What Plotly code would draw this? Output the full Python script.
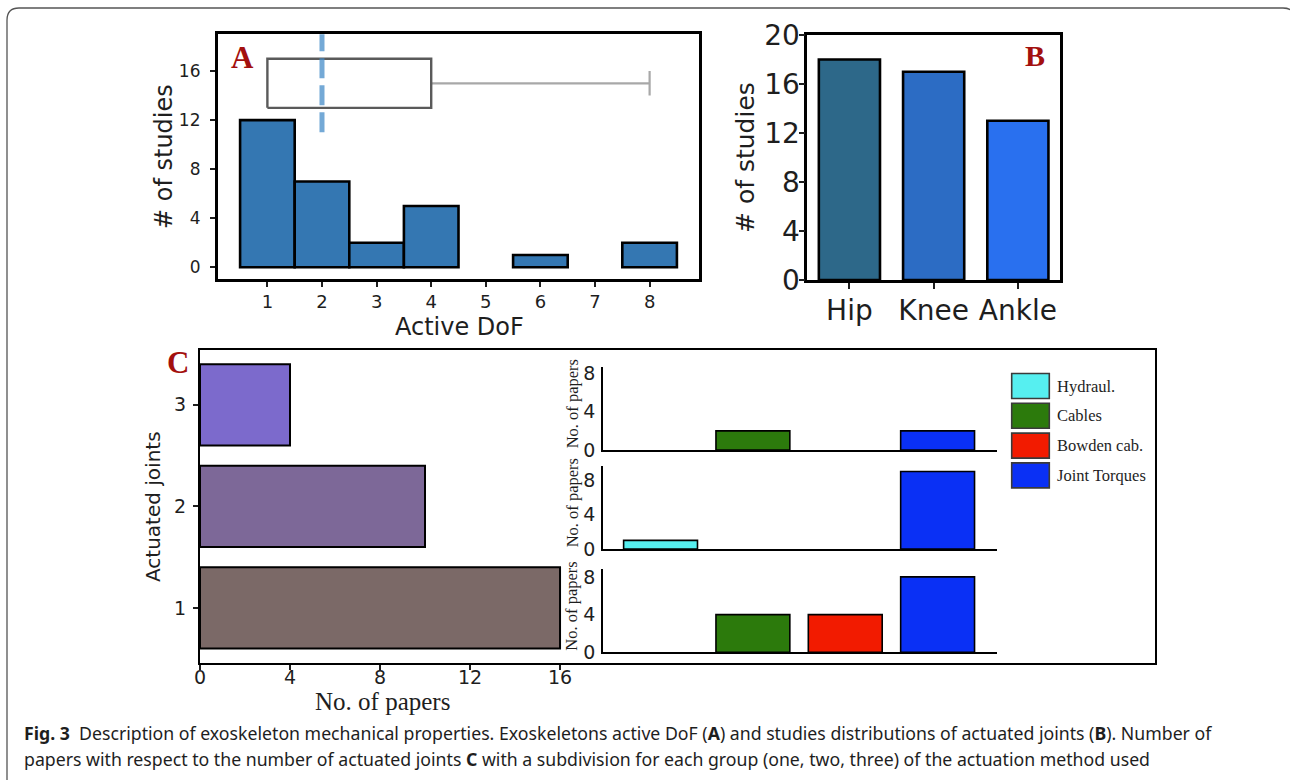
import plotly.graph_objects as go

W, H = 1290, 780

# ---------------- data ----------------
# Panel A: histogram of active DoF + box summary
dof_values = [1, 2, 3, 4, 6, 8]
dof_counts = [12, 7, 2, 5, 1, 2]
dof_ticks = [1, 2, 3, 4, 5, 6, 7, 8]
box_q1, box_median, box_q3, box_max = 1, 2, 4, 8
box_center, box_height = 15, 4

# Panel B: studies per joint
joints = ["Hip", "Knee", "Ankle"]
joint_counts = [18, 17, 13]
joint_colors = ["#2d6889", "#2c6cc4", "#2970ef"]

# Panel C: papers per number of actuated joints
n_joints = [1, 2, 3]
n_papers = [16, 10, 4]
n_colors = ["#7b6967", "#7d6898", "#7c6acc"]

# Panel C insets: actuation method per group
methods = ["Hydraul.", "Cables", "Bowden cab.", "Joint Torques"]
method_colors = ["#56eff0", "#2c7a0c", "#f21b00", "#0a30f5"]
papers_three = [0, 2, 0, 2]
papers_two = [1, 0, 0, 9]
papers_one = [0, 4, 4, 8]

caption_1 = ("<b>Fig. 3</b>  Description of exoskeleton mechanical properties. Exoskeletons active DoF "
             "(<b>A</b>) and studies distributions of actuated joints (<b>B</b>). Number of")
caption_2 = ("papers with respect to the number of actuated joints <b>C</b> with a subdivision for each "
             "group (one, two, three) of the actuation method used")


def fx(px):
    return px / W


def fy(py):
    return 1 - py / H


SANS = "DejaVu Sans"
SERIF = "Liberation Serif"
RED = "#a3100e"
TXT = "#1e1e1e"

fig = go.Figure()

# ---------------- Panel A ----------------
fig.add_trace(go.Bar(x=dof_values, y=dof_counts, width=1, xaxis="x", yaxis="y",
                     marker=dict(color="#3477b2", line=dict(color="black", width=2.6)),
                     showlegend=False, hoverinfo="skip"))
half = box_height / 2
fig.add_trace(go.Scatter(x=[box_q3, box_max], y=[box_center, box_center], mode="lines",
                         line=dict(color="#a8a8a8", width=2.2), xaxis="x", yaxis="y",
                         showlegend=False, hoverinfo="skip"))
fig.add_trace(go.Scatter(x=[box_max, box_max], y=[box_center - half / 2, box_center + half / 2], mode="lines",
                         line=dict(color="#a8a8a8", width=2.2), xaxis="x", yaxis="y",
                         showlegend=False, hoverinfo="skip"))
fig.add_trace(go.Scatter(x=[box_q1, box_q3, box_q3, box_q1, box_q1],
                         y=[box_center - half, box_center - half, box_center + half, box_center + half, box_center - half],
                         mode="lines", line=dict(color="#5a5a5a", width=2.4),
                         xaxis="x", yaxis="y", showlegend=False, hoverinfo="skip"))

# ---------------- Panel B ----------------
fig.add_trace(go.Bar(x=joints, y=joint_counts, width=0.726, xaxis="x2", yaxis="y2",
                     marker=dict(color=joint_colors, line=dict(color="black", width=2.6)),
                     showlegend=False, hoverinfo="skip"))

# ---------------- Panel C main ----------------
fig.add_trace(go.Bar(y=n_joints, x=n_papers, orientation="h", width=0.8, xaxis="x3", yaxis="y3",
                     marker=dict(color=n_colors, line=dict(color="black", width=2)),
                     showlegend=False, hoverinfo="skip"))

# ---------------- Panel C insets ----------------
xi = list(range(len(methods)))
for ax, vals in (("4", papers_three), ("5", papers_two), ("6", papers_one)):
    fig.add_trace(go.Bar(x=xi, y=vals, width=0.8, xaxis="x" + ax, yaxis="y" + ax,
                         marker=dict(color=method_colors,
                                     line=dict(color="black", width=[1.6 if v else 0 for v in vals])),
                         showlegend=False, hoverinfo="skip"))

tickA = dict(family=SANS, size=17, color=TXT)
layout = dict(
    width=W, height=H, margin=dict(l=0, r=0, t=0, b=0, autoexpand=False),
    autosize=False,
    paper_bgcolor="white", plot_bgcolor="rgba(0,0,0,0)",
    xaxis=dict(domain=[fx(217.7), fx(699.3)], range=[0.09, 8.91], tickvals=dof_ticks,
               showline=True, mirror=True, linecolor="black", linewidth=2.6,
               ticks="outside", ticklen=5, tickwidth=1.5, tickcolor=TXT,
               tickfont=dict(family=SANS, size=18, color=TXT), ticklabelstandoff=-1,
               showgrid=False, zeroline=False, anchor="y", automargin=False),
    yaxis=dict(domain=[fy(279.3), fy(34.3)], range=[-0.98, 19.0], tickvals=[0, 4, 8, 12, 16],
               showline=True, mirror=True, linecolor="black", linewidth=2.6,
               ticks="outside", ticklen=5, tickwidth=1.5, tickcolor=TXT, tickfont=tickA,
               ticklabelstandoff=6, showgrid=False, zeroline=False, anchor="x", automargin=False),
    xaxis2=dict(domain=[fx(807.3), fx(1060)], range=[-0.5, 2.5], type="category",
                showline=True, mirror=True, linecolor="black", linewidth=2.6,
                ticks="outside", ticklen=6, tickwidth=1.5, tickcolor=TXT,
                tickfont=dict(family=SANS, size=28, color=TXT), ticklabelstandoff=-2,
                showgrid=False, zeroline=False, anchor="y2", automargin=False),
    yaxis2=dict(domain=[fy(280), fy(35)], range=[0, 20], tickvals=[0, 4, 8, 12, 16, 20],
                showline=True, mirror=True, linecolor="black", linewidth=2.6,
                ticks="outside", ticklen=6, tickwidth=1.5, tickcolor=TXT,
                tickfont=dict(family=SANS, size=28, color=TXT), ticklabelstandoff=-7,
                showgrid=False, zeroline=False, anchor="x2", automargin=False),
    xaxis3=dict(domain=[fx(200), fx(1155)], range=[0, 42.44], tickvals=[0, 4, 8, 12, 16],
                showline=True, mirror=True, linecolor="black", linewidth=2.2,
                ticks="outside", ticklen=5, tickwidth=1.5, tickcolor=TXT,
                tickfont=dict(family=SANS, size=19, color=TXT), ticklabelstandoff=-9,
                showgrid=False, zeroline=False, anchor="y3", automargin=False),
    yaxis3=dict(domain=[fy(662.7), fy(350)], range=[0.46, 3.54], tickvals=n_joints,
                showline=True, mirror=True, linecolor="black", linewidth=2.2,
                ticks="outside", ticklen=5, tickwidth=1.5, tickcolor=TXT,
                tickfont=dict(family=SANS, size=19, color=TXT), ticklabelstandoff=3,
                showgrid=False, zeroline=False, anchor="x3", automargin=False),
)
inset_y = {"4": (450, 366.7, 8.7), "5": (549, 465.7, 9.68), "6": (652.3, 569, 8.84)}
for ax, (yb, yt, top) in inset_y.items():
    layout["xaxis" + ax] = dict(domain=[fx(603.3), fx(996.7)], range=[-0.62, 3.64],
                                showline=True, linecolor="black", linewidth=2.4,
                                showticklabels=False, ticks="", showgrid=False, zeroline=False,
                                anchor="y" + ax, automargin=False)
    layout["yaxis" + ax] = dict(domain=[fy(yb), fy(yt)], range=[0, top], tickvals=[0, 4, 8],
                                showline=True, linecolor="black", linewidth=2.4,
                                ticks="", ticklabelstandoff=2,
                                tickfont=dict(family=SANS, size=19, color=TXT),
                                showgrid=False, zeroline=False, anchor="x" + ax, automargin=False)
fig.update_layout(**layout)

# dashed median marker (axis-fraction span like axvline)
fig.add_shape(type="line", xref="x", yref="y domain", x0=box_median, x1=box_median, y0=0.6, y1=1.0,
              line=dict(color="rgba(70,140,200,0.75)", width=5, dash="20px,7px"))

anns = []


def ann(text, x, y, size, family=SANS, color=TXT, xa="center", ya="middle", angle=0):
    anns.append(dict(text=text, x=fx(x), y=fy(y), xref="paper", yref="paper", showarrow=False,
                     xanchor=xa, yanchor=ya, textangle=angle,
                     font=dict(size=size, family=family, color=color)))


# Panel A titles
ann("# of studies", 164, 157, 24, angle=-90)
ann("Active DoF", 459, 327, 24)
ann("<b>A</b>", 242, 58, 31, family=SERIF, color=RED)
# Panel B titles
ann("# of studies", 746, 158, 25, angle=-90)
ann("<b>B</b>", 1035, 56, 30, family=SERIF, color=RED)
# Panel C titles
ann("Actuated joints", 153, 507, 20, angle=-90)
ann("No. of papers", 382, 701, 25, family=SERIF)
ann("<b>C</b>", 178, 362, 31, family=SERIF, color=RED)
for yb, yt, top in inset_y.values():
    ann("No. of papers", 572, (yb + yt) / 2 - 4, 16.5, family=SERIF, angle=-90)

# legend of actuation methods
for i, (m, c) in enumerate(zip(methods, method_colors)):
    top = 373.5 + i * 29.8
    fig.add_shape(type="rect", xref="paper", yref="paper",
                  x0=fx(1011.7), x1=fx(1049.3), y0=fy(top + 25), y1=fy(top),
                  fillcolor=c, line=dict(color="#3a3a3a", width=1.6))
    ann(m, 1055, top + 12.5, 16.5, family=SERIF, xa="left")

# caption
ann(caption_1, 22, 733, 17.7, family="Noto Sans", xa="left")
ann(caption_2, 22, 759, 17.7, family="Noto Sans", xa="left")

fig.update_layout(annotations=anns)

# outer rounded frame
r = 12
x0p, y0p, x1p, y1p = 7, 8, 1295, 800
path = (f"M {fx(x0p)},{fy(y1p)} L {fx(x0p)},{fy(y0p + r)} Q {fx(x0p)},{fy(y0p)} {fx(x0p + r)},{fy(y0p)} "
        f"L {fx(x1p - r)},{fy(y0p)} Q {fx(x1p)},{fy(y0p)} {fx(x1p)},{fy(y0p + r)} L {fx(x1p)},{fy(y1p)}")
fig.add_shape(type="path", xref="paper", yref="paper", path=path,
              line=dict(color="#555555", width=1.3))

fig.write_html("out.html", config={"displayModeBar": False},
               post_script="document.body.style.margin='0';document.body.style.overflow='hidden';")
